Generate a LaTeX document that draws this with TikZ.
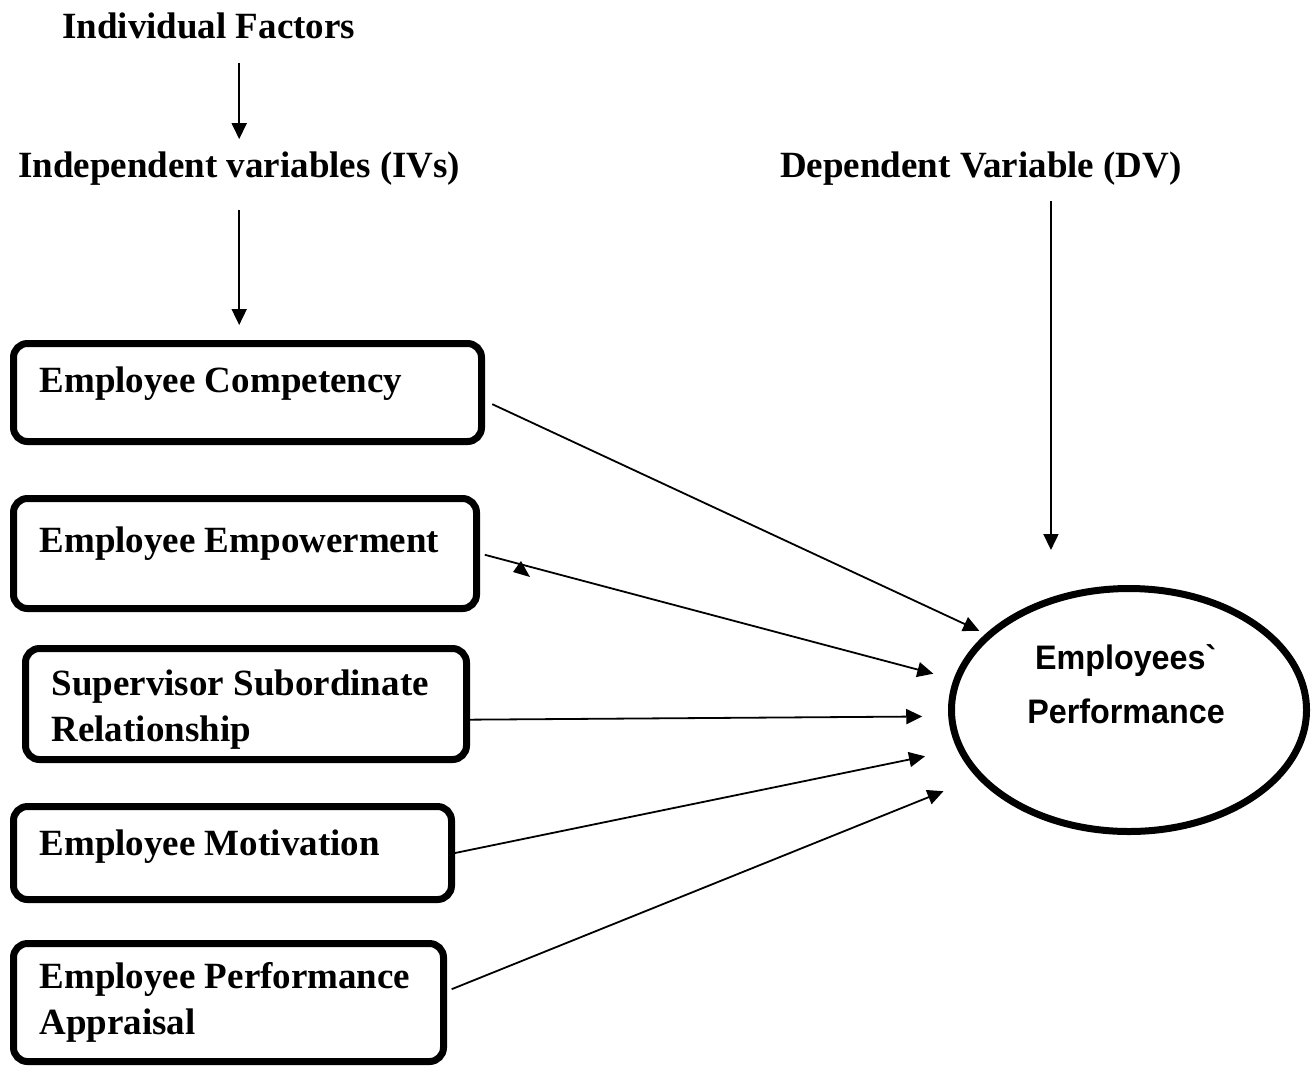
\documentclass[tikz,border=0pt]{standalone}
\usepackage{fontspec}
\setmainfont{Liberation Serif}
\newfontfamily\ovalfont[FakeStretch=0.95]{Liberation Sans}
\usetikzlibrary{arrows.meta,shapes.geometric}
\tikzset{
  heading/.style={font=\bfseries\fontsize{37}{46}\selectfont, inner sep=0pt, anchor=base west},
  factor/.style={draw, line width=7pt, rounded corners=14pt, anchor=west,
    align=flush left, inner xsep=26pt, inner ysep=0pt,
    font=\bfseries\fontsize{37}{46}\selectfont},
  link/.style={line width=1.8pt, -{Triangle[length=16pt,width=15pt]}},
}

\begin{document}
\begin{tikzpicture}[x=1pt, y=-1pt]
\useasboundingbox (0,0) rectangle (1316,1069);

%% Headings
\node[heading] (indiv) at (62,38) {Individual Factors};
\node[heading] (ivs) at (18,177) {Independent variables (IVs)};
\node[heading] (dv) at (780,177) {Dependent Variable (DV)};

%% Independent variables (left column)
\node[factor, text width=416pt, minimum height=98pt, text depth=26pt]
  (comp) at (10,392.5) {Employee Competency};
\node[factor, text width=411pt, minimum height=110pt, text depth=28pt]
  (empow) at (10,553.5) {Employee Empowerment};
\node[factor, text width=389pt, minimum height=111pt, text depth=43pt]
  (superv) at (22,704) {Supervisor Subordinate\\Relationship};
\node[factor, text width=386pt, minimum height=93pt, text depth=21pt]
  (motiv) at (10,853) {Employee Motivation};
\node[factor, text width=378pt, minimum height=118pt, text depth=54pt]
  (apprais) at (10,1002.5) {Employee Performance\\Appraisal};

%% Dependent variable
\node[draw, ellipse, line width=7pt, minimum width=355pt, minimum height=243pt,
  inner sep=0pt] (perf) at (1129,710) {};
\node[font=\ovalfont\bfseries\fontsize{34}{54}\selectfont, align=center, inner sep=0pt]
  (perflbl) at (1126,684) {Employees\textasciigrave\\Performance};

%% Downward arrows under the headings
\draw[link, shorten <=24pt, shorten >=12pt] (indiv.south -| ivs.north) -- (ivs.north);
\draw[link, shorten <=25pt, shorten >=15pt] (ivs.south) -- (ivs.south |- comp.north);
\draw[link, shorten <=16pt, shorten >=35pt] ([xshift=70pt]dv.south) -- ([xshift=70pt]dv.south |- perf.north);

%% Paths into the oval
\draw[link, shorten <=8pt, shorten >=7pt] (comp.-2.3) -- (perf.152.7);
\draw[link, shorten <=5pt, shorten >=21pt] (empow.east) -- (perf.170.8);
\draw[link, shorten >=26pt] (superv.-4.1) -- (perf.182.8);
\draw[link, shorten >=33pt] (motiv.east) -- (perf.193);
\draw[link, shorten <=5pt, shorten >=36pt] (apprais.3.3) -- (perf.204.8);
% loose arrow head by the empowerment box
\fill (521,561) -- (513,572) -- (530,577) -- cycle;

\end{tikzpicture}
\end{document}
